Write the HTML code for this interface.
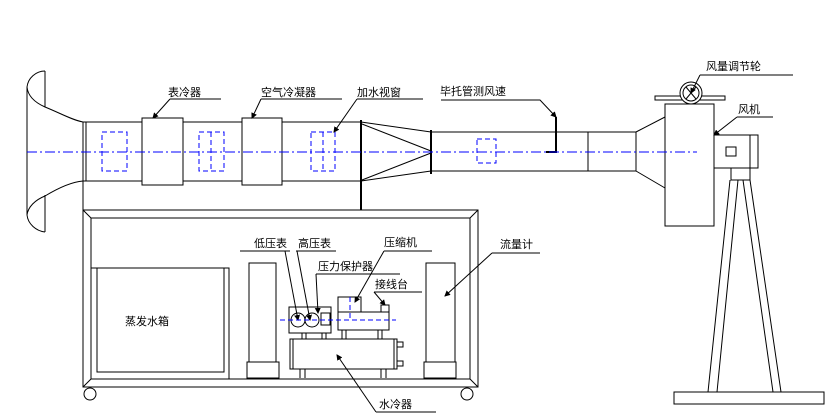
<!DOCTYPE html>
<html><head><meta charset="utf-8"><style>
html,body{margin:0;padding:0;background:#fff;}
svg{display:block;}
text{font-family:"Liberation Sans","Noto Sans CJK SC",sans-serif;font-size:11px;fill:#000;}
</style></head><body>
<svg width="833" height="416" viewBox="0 0 833 416" xmlns="http://www.w3.org/2000/svg">
<defs><marker id="a" markerWidth="6" markerHeight="6" refX="5" refY="3" orient="auto" markerUnits="userSpaceOnUse"><path d="M0,0 L6,3 L0,6 z" fill="#000"/></marker></defs>
<g fill="none" stroke="#000" stroke-width="1" shape-rendering="crispEdges">
<path d="M45,71 L45,107 M45,195 L45,232"/>
<path d="M27,87 L27,215"/>
<path d="M45,71 C36,71 28,78 27,87 C28,97 36,103 45,107 C60,113 72,120 83,122" shape-rendering="auto"/>
<path d="M83,181 C70,182 55,190 45,196 C35,200 28,207 27,215 C28,224 36,231 45,232" shape-rendering="auto"/>
<path d="M83,122 H361 M83,181 H361"/>
<path d="M83,122 V387 M86,122 V181"/>
<rect x="142" y="118" width="41" height="67" fill="#fff"/>
<rect x="242" y="118" width="40" height="67" fill="#fff"/>
<path d="M361,120 V210" stroke-width="2"/>
<path d="M361,122 L431,132 M361,181 L431,171 M362,124 L431,151 M362,180 L431,153" shape-rendering="auto"/>
<path d="M431,130 V174" stroke-width="2"/>
<path d="M431,132 H636 M431,171 H636 M588,132 V171 M636,132 V171"/>
<path d="M556,117 V152 H546" stroke-width="2"/>
<path d="M636,132 L665,117 M636,171 L665,188" shape-rendering="auto"/>
<rect x="665" y="104" width="49" height="122"/>
<rect x="655" y="96" width="70" height="4"/>
<circle cx="691" cy="93" r="11" fill="#fff" shape-rendering="auto"/>
<circle cx="691" cy="93" r="8" shape-rendering="auto"/>
<path d="M686,87 L696,99 M686,99 L696,87" shape-rendering="auto"/>
<rect x="714" y="135" width="36" height="33"/>
<rect x="750" y="135" width="8" height="33"/>
<rect x="726" y="147" width="10" height="9"/>
<rect x="731" y="168" width="19" height="12"/>
<path d="M730,180 L708,392 M738,180 L717,392 M743,180 L773,392 M750,180 L781,392" shape-rendering="auto"/>
<rect x="674" y="392" width="150" height="12"/>
<rect x="83" y="210" width="395" height="177"/>
<rect x="91" y="218" width="379" height="161"/>
<path d="M83,210 L91,218 M478,210 L470,218 M83,387 L91,379 M478,387 L470,379" shape-rendering="auto"/>
<circle cx="90" cy="394" r="6" shape-rendering="auto"/><circle cx="467" cy="394" r="6" shape-rendering="auto"/>
<path d="M91,268 H229 V379"/>
<rect x="97" y="268" width="127" height="104"/>
<rect x="249" y="263" width="27" height="99"/>
<rect x="247" y="362" width="32" height="16"/>
<rect x="426" y="263" width="29" height="99"/>
<rect x="424" y="362" width="32" height="16"/>
<rect x="289" y="307" width="42" height="26"/>
<circle cx="298" cy="320" r="7" shape-rendering="auto"/><circle cx="312" cy="320" r="7" shape-rendering="auto"/>
<rect x="321" y="313" width="9" height="12"/>
<path d="M302,333 V339 M306,333 V339 M322,333 V339 M326,333 V339"/>
<rect x="338" y="297" width="23" height="15"/>
<rect x="338" y="312" width="51" height="18"/>
<rect x="381" y="305" width="8" height="7"/>
<path d="M342,330 V339 M346,330 V339 M378,330 V339 M382,330 V339"/>
<rect x="290" y="339" width="107" height="30"/>
<path d="M293,339 V369 M394,339 V369"/>
<rect x="397" y="342" width="6" height="5"/><rect x="397" y="361" width="6" height="5"/>
<path d="M300,369 V378 M305,369 V378 M381,369 V378 M386,369 V378"/>
</g>
<g fill="none" stroke="#000" stroke-width="1">
<path d="M170,99 H221"/><path d="M170,99 L153,118" marker-end="url(#a)"/>
<path d="M261,99 H342"/><path d="M261,99 L252,118" marker-end="url(#a)"/>
<path d="M357,99 H423"/><path d="M357,99 L334,132" marker-end="url(#a)"/>
<path d="M441,100 H540 L556,117" marker-end="url(#a)"/>
<path d="M700,75 H793"/><path d="M700,75 L691,93" marker-end="url(#a)"/>
<path d="M737,117 H773"/><path d="M737,117 L714,135" marker-end="url(#a)"/>
<path d="M240,251 H290"/><path d="M285,251 L298,320" marker-end="url(#a)"/>
<path d="M296,251 H336"/><path d="M297,251 L310,320" marker-end="url(#a)"/>
<path d="M316,274 H400"/><path d="M316,274 L318,313" marker-end="url(#a)"/>
<path d="M384,251 H432"/><path d="M384,251 L355,302" marker-end="url(#a)"/>
<path d="M374,292 H422"/><path d="M374,292 L385,305" marker-end="url(#a)"/>
<path d="M492,253 H540"/><path d="M492,253 L445,296" marker-end="url(#a)"/>
<path d="M376,412 H436"/><path d="M376,412 L337,355" marker-end="url(#a)"/>
</g>
<g fill="none" stroke="#0000ff" stroke-width="1" stroke-dasharray="5,3" shape-rendering="crispEdges">
<rect x="102" y="132" width="25" height="39"/>
<rect x="199" y="132" width="25" height="39"/><path d="M211,132 V171"/>
<rect x="311" y="132" width="24" height="39"/><path d="M323,132 V171"/>
<rect x="477" y="139" width="19" height="24"/>
<path d="M27,152 H697" stroke-dasharray="10,3,2,3"/>
<path d="M280,320 H396 M350,297 V320"/>
</g>
<text x="168" y="96">表冷器</text>
<text x="261" y="96">空气冷凝器</text>
<text x="357" y="96">加水视窗</text>
<text x="440" y="95">毕托管测风速</text>
<text x="706" y="70">风量调节轮</text>
<text x="738" y="113">风机</text>
<text x="254" y="247">低压表</text>
<text x="298" y="247">高压表</text>
<text x="384" y="246">压缩机</text>
<text x="318" y="270">压力保护器</text>
<text x="375" y="288">接线台</text>
<text x="500" y="248">流量计</text>
<text x="125" y="325">蒸发水箱</text>
<text x="379" y="408">水冷器</text>
</svg>
</body></html>
